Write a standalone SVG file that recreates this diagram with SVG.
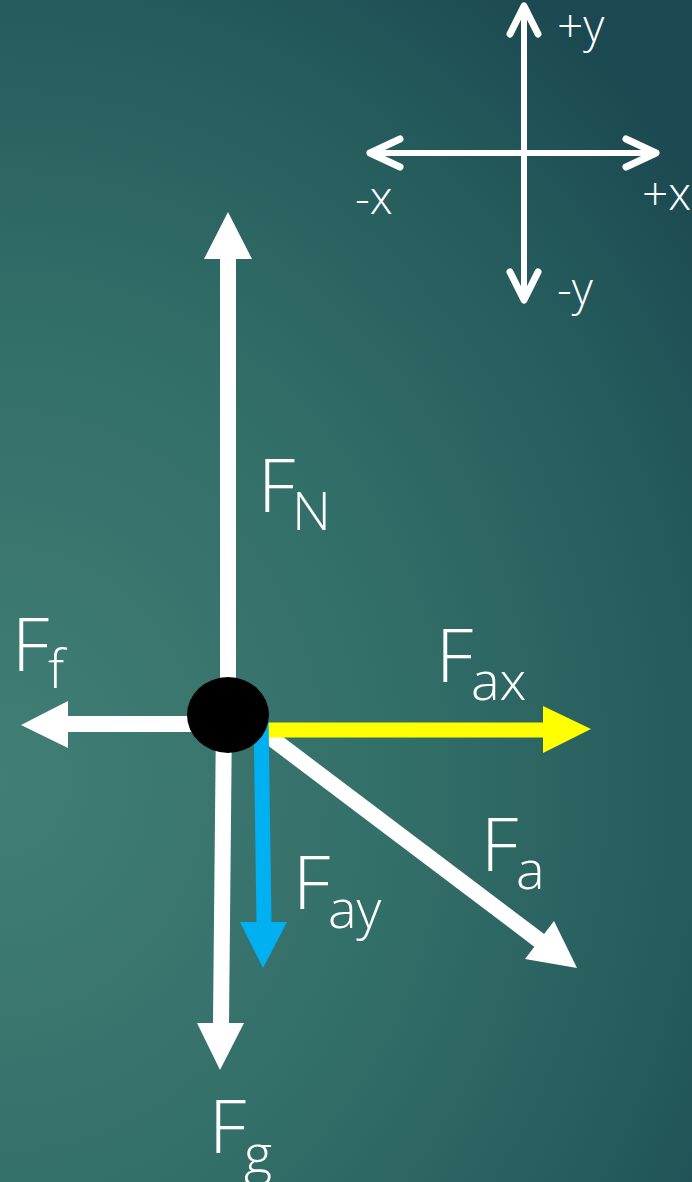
<svg xmlns="http://www.w3.org/2000/svg" width="692" height="1182" viewBox="0 0 692 1182">
<defs>
<radialGradient id="bg" cx="0" cy="0" r="1" gradientUnits="userSpaceOnUse" gradientTransform="translate(0,780) scale(880,1000)">
<stop offset="0" stop-color="#417e74"/>
<stop offset="0.45" stop-color="#336f69"/>
<stop offset="0.8" stop-color="#245a5b"/>
<stop offset="1" stop-color="#1b4951"/>
</radialGradient>
<style>
.lbl{font-family:"Open Sans","Liberation Sans",sans-serif;font-weight:300;fill:#fff;font-size:74px}
.sub{font-family:"Open Sans","Liberation Sans",sans-serif;font-weight:300;fill:#fff;font-size:54px}
.ax{font-family:"Open Sans","Liberation Sans",sans-serif;font-weight:300;fill:#fff;font-size:46px}
.axl{stroke:#fff;stroke-width:6;fill:none;stroke-linecap:round}
.chev{stroke:#fff;stroke-width:7;fill:none;stroke-linecap:round;stroke-linejoin:round}
.w{stroke:#fff;stroke-width:16;fill:none}
.wh{fill:#fff}
</style>
</defs>
<rect x="0" y="0" width="692" height="1182" fill="url(#bg)"/>

<g id="axes">
<line class="axl" x1="524" y1="6" x2="524" y2="300"/>
<line class="axl" x1="370" y1="153" x2="656" y2="153"/>
<polyline class="chev" points="510,34 524,6 538,34"/>
<polyline class="chev" points="510,272 524,300 538,272"/>
<polyline class="chev" points="400,139 370,153 400,167"/>
<polyline class="chev" points="626,139 656,153 626,167"/>
<text class="ax" x="557" y="42">+y</text>
<text class="ax" x="355" y="214">-x</text>
<text class="ax" x="642" y="210">+x</text>
<text class="ax" x="557" y="305">-y</text>
</g>

<g id="connectors">
<g id="arrow-FN">
<line class="w" x1="228" y1="715" x2="228" y2="258"/>
<polygon class="wh" points="204,259 252,259 228,212"/>
</g>
<g id="arrow-Fg">
<line class="w" x1="224" y1="715" x2="221" y2="1024"/>
<polygon class="wh" points="197,1023 244,1023 220,1070"/>
</g>
<g id="arrow-Ff">
<line class="w" x1="228" y1="724" x2="67" y2="724"/>
<polygon class="wh" points="68,701 68,748 21,725"/>
</g>
<g id="arrow-Fa">
<line class="w" x1="250" y1="722" x2="540" y2="941"/>
<polygon class="wh" points="577,968 525,959 554,921"/>
</g>
<g id="arrow-Fax">
<line stroke="#ffff00" stroke-width="15" x1="228" y1="730" x2="544" y2="730"/>
<polygon fill="#ffff00" points="543,706 543,753 591,729"/>
</g>
<g id="arrow-Fay">
<line stroke="#00b0f0" stroke-width="15" x1="261" y1="715" x2="264" y2="923"/>
<polygon fill="#00b0f0" points="240,922 287,922 263,968"/>
</g>
</g>

<g id="object">
<ellipse cx="228" cy="715" rx="41" ry="38" fill="#000"/>
</g>

<g id="label-FN"><text class="lbl" x="258" y="512">F</text><text class="sub" x="292" y="530">N</text></g>
<g id="label-Ff"><text class="lbl" x="12" y="671">F</text><text class="sub" x="48" y="688">f</text></g>
<g id="label-Fax"><text class="lbl" x="436" y="682">F</text><text class="sub" x="471" y="700">ax</text></g>
<g id="label-Fa"><text class="lbl" x="481" y="871">F</text><text class="sub" x="516" y="889">a</text></g>
<g id="label-Fay"><text class="lbl" x="293" y="909">F</text><text class="sub" x="328" y="928">ay</text></g>
<g id="label-Fg"><text class="lbl" x="209" y="1153">F</text><text class="sub" x="244" y="1173">g</text></g>
</svg>
